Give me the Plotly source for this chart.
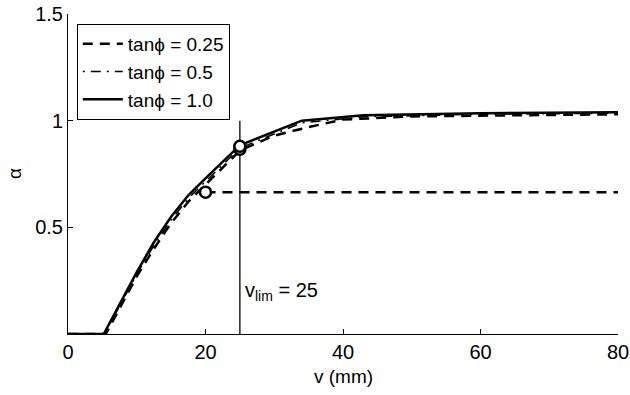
import plotly.graph_objects as go

# data
v_solid = [0, 5.2, 10, 12.5, 15, 17.5, 20, 25, 34, 43, 60, 80]
a_solid = [0, 0, 0.29, 0.43, 0.55, 0.65, 0.73, 0.885, 1.0, 1.025, 1.035, 1.04]

v_dd = [0, 5.3, 10, 12.5, 15, 17.5, 20, 25, 34, 43, 60, 80]
a_dd = [0, 0, 0.28, 0.415, 0.535, 0.635, 0.715, 0.872, 0.99, 1.018, 1.03, 1.035]

v_dash = [0, 5.5, 10, 12.5, 15, 17.5, 20, 25, 30, 35, 40, 50, 80]
a_dash = [0, 0, 0.27, 0.40, 0.52, 0.62, 0.70, 0.86, 0.93, 0.97, 1.005, 1.02, 1.03]

v_plateau = [20, 80]
a_plateau = [0.665, 0.665]

v_marks = [20, 25, 25]
a_marks = [0.665, 0.866, 0.880]

v_lim = 25
v_lim_top = 1.0

names = ["tan\u03d5 = 0.25", "tan\u03d5 = 0.5", "tan\u03d5 = 1.0"]

FONT = "Liberation Sans, Arial, sans-serif"

fig = go.Figure()

# vertical v_lim line
fig.add_trace(go.Scatter(x=[v_lim, v_lim], y=[0, v_lim_top], mode="lines",
                         line=dict(color="black", width=1.3), showlegend=False,
                         hoverinfo="skip"))

fig.add_trace(go.Scatter(x=v_dash, y=a_dash, mode="lines", name=names[0],
                         line=dict(color="black", width=2.5, dash="10px,7px")))
fig.add_trace(go.Scatter(x=v_plateau, y=a_plateau, mode="lines", showlegend=False,
                         line=dict(color="black", width=2.5, dash="10px,7px")))
fig.add_trace(go.Scatter(x=v_dd, y=a_dd, mode="lines", name=names[1],
                         line=dict(color="black", width=1.5, dash="2px,6px,10px,6px")))
fig.add_trace(go.Scatter(x=v_solid, y=a_solid, mode="lines", name=names[2],
                         line=dict(color="black", width=2.5)))

fig.add_trace(go.Scatter(x=v_marks, y=a_marks, mode="markers", showlegend=False,
                         marker=dict(symbol="circle", size=11, color="white",
                                     line=dict(color="black", width=2.5))))

fig.add_annotation(x=25.5, y=0.2, xref="x", yref="y", xanchor="left", yanchor="middle",
                   text="v<sub>lim</sub> = 25", showarrow=False,
                   font=dict(family=FONT, size=20, color="black"))

fig.add_annotation(x=-0.098, y=0.5, xref="paper", yref="paper", text="\u03b1",
                   textangle=-90, showarrow=False, xanchor="center", yanchor="middle",
                   font=dict(family=FONT, size=19, color="black"))

fig.add_annotation(x=0.5, y=-0.134, xref="paper", yref="paper", text="v (mm)",
                   showarrow=False, xanchor="center", yanchor="middle",
                   font=dict(family=FONT, size=19, color="black"))

fig.update_layout(
    width=630, height=395,
    margin=dict(l=68, r=12, t=14, b=61),
    paper_bgcolor="white", plot_bgcolor="white",
    font=dict(family=FONT, size=19, color="black"),
    showlegend=True,
    legend=dict(x=0.016, y=0.969, xanchor="left", yanchor="top",
                bgcolor="white", bordercolor="black", borderwidth=1,
                font=dict(family=FONT, size=19), itemwidth=40),
    xaxis=dict(range=[0, 80], tickvals=[0, 20, 40, 60, 80], ticks="inside",
               ticklen=5, tickcolor="black", showline=True, linecolor="black",
               linewidth=1, mirror=False, showgrid=False, zeroline=False,
               automargin=False, tickfont=dict(size=20)),
    yaxis=dict(range=[0, 1.5], tickvals=[0.5, 1, 1.5], ticktext=["0.5", "1", "1.5"],
               ticks="inside", ticklen=5, tickcolor="black", showline=True,
               linecolor="black", linewidth=1, mirror=False, showgrid=False,
               zeroline=False, automargin=False, tickfont=dict(size=20)),
)

fig.write_html("out.html")
